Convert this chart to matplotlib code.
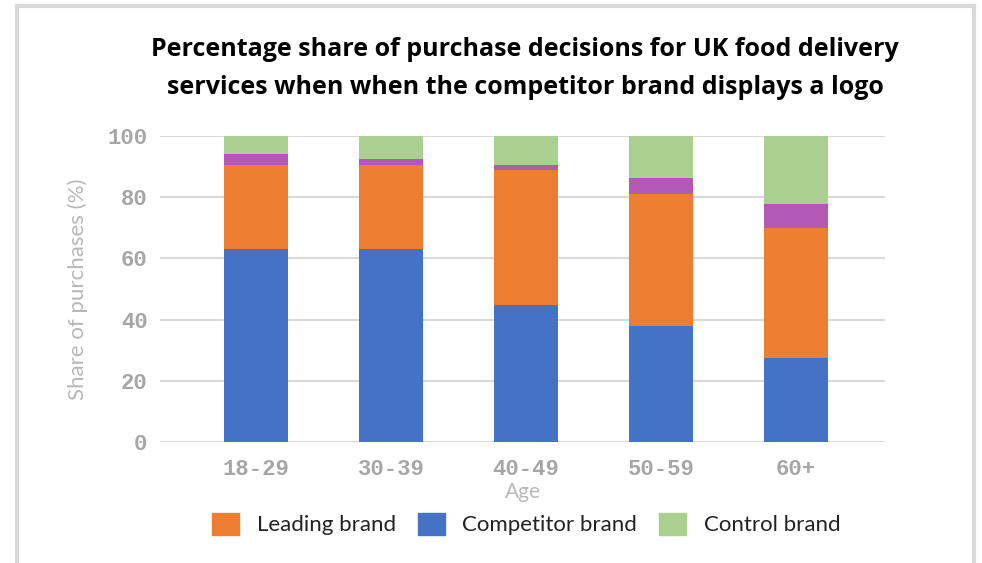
import matplotlib.pyplot as plt
import matplotlib.patches as mpatches
import numpy as np

# data (share of purchases, %)
ages = ["18-29", "30-39", "40-49", "50-59", "60+"]
competitor = [63.0, 63.0, 44.8, 37.9, 27.5]
leading = [27.5, 27.5, 44.1, 43.1, 42.4]
other = [3.7, 2.0, 1.6, 5.3, 7.9]
control = [5.8, 7.5, 9.5, 13.7, 22.2]

c_comp = "#4472c4"
c_lead = "#ed7d31"
c_other = "#b259b5"
c_ctrl = "#a9d08e"
grey = "#a6a6a6"

fig = plt.figure(figsize=(9.82, 5.63), dpi=100)
ax = fig.add_axes([160/982, 1-442/563, 725/982, 306/563])

x = np.arange(len(ages))
w = 0.475
b1 = np.array(competitor)
b2 = b1 + np.array(leading)
b3 = b2 + np.array(other)
ax.bar(x, competitor, w, color=c_comp, zorder=3)
ax.bar(x, leading, w, bottom=b1, color=c_lead, zorder=3)
ax.bar(x, other, w, bottom=b2, color=c_other, zorder=3)
ax.bar(x, control, w, bottom=b3, color=c_ctrl, zorder=3)

ax.set_xlim(-0.711, 4.659)
ax.set_ylim(0, 100)
ax.set_yticks(range(0, 101, 20))
ax.set_xticks(x)
ax.set_xticklabels(ages)
ax.grid(axis="y", color="#d9d9d9", lw=1.5, zorder=0)
for s in ax.spines.values():
    s.set_visible(False)
ax.tick_params(axis="x", length=0, pad=12, labelsize=16, labelcolor=grey)
ax.tick_params(axis="y", length=0, pad=9, labelsize=16, labelcolor=grey)
for lab in ax.get_xticklabels() + ax.get_yticklabels():
    lab.set_family("Liberation Mono")
    lab.set_fontweight("bold")

ax.set_xlabel("Age", color="#b8b8b8", fontsize=15, family="Lato", labelpad=2)
ax.set_ylabel("Share of purchases (%)", color="#b8b8b8", fontsize=16,
              family="Lato", labelpad=14)

fig.text(0.535, 1-50/563, "Percentage share of purchase decisions for UK food delivery",
         ha="center", va="center", fontsize=18, fontweight="bold", family="Open Sans")
fig.text(0.535, 1-88/563, "services when when the competitor brand displays a logo",
         ha="center", va="center", fontsize=18, fontweight="bold", family="Open Sans")

handles = [mpatches.Patch(color=c_lead, label="Leading brand"),
           mpatches.Patch(color=c_comp, label="Competitor brand"),
           mpatches.Patch(color=c_ctrl, label="Control brand")]
fig.legend(handles=handles, loc="center", bbox_to_anchor=(0.536, 1-524/563),
           ncol=3, frameon=False, prop={"family": "Lato", "size": 16},
           handlelength=1.2, handleheight=1.2, handletextpad=0.8,
           columnspacing=1.0, labelcolor="#222222")

# light grey frame around the chart (bottom edge is cropped off)
fig.add_artist(plt.Line2D([17/982, 17/982], [0, 1-6/563], color="#d9d9d9", lw=3))
fig.add_artist(plt.Line2D([974/982, 974/982], [0, 1-6/563], color="#d9d9d9", lw=3))
fig.add_artist(plt.Line2D([17/982, 974/982], [1-6/563, 1-6/563], color="#d9d9d9", lw=3))

fig.savefig("out.png", dpi=100)
